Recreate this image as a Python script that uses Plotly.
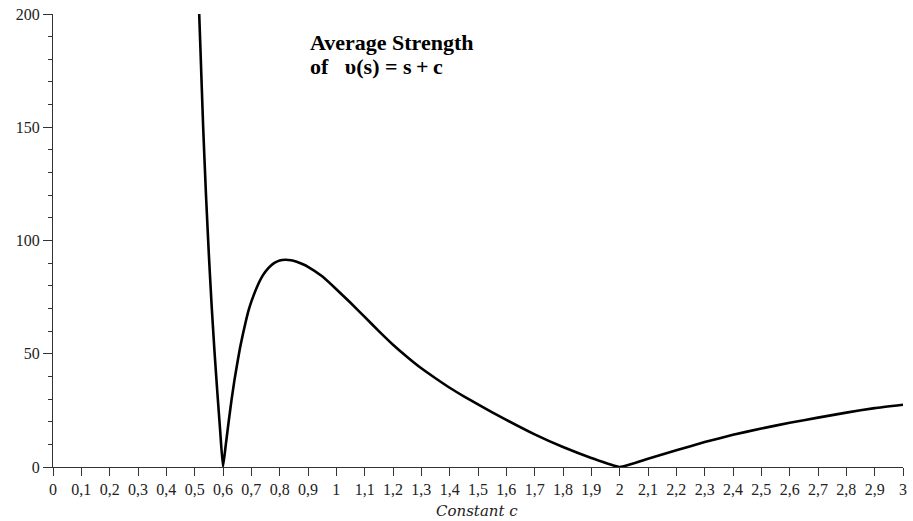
import plotly.graph_objects as go

# Data
c_values = [0.516, 0.52, 0.53, 0.54, 0.55, 0.56, 0.57, 0.58, 0.59, 0.6,
            0.61, 0.62, 0.63, 0.64, 0.65, 0.66, 0.67, 0.68, 0.69, 0.70,
            0.72, 0.74, 0.76, 0.78, 0.80, 0.82, 0.84, 0.86, 0.88, 0.90,
            0.95, 1.0, 1.05, 1.1, 1.15, 1.2, 1.25, 1.3, 1.35, 1.4,
            1.45, 1.5, 1.6, 1.7, 1.8, 1.9, 2.0, 2.1, 2.2, 2.3,
            2.4, 2.5, 2.6, 2.7, 2.8, 2.9, 3.0]
strength = [200, 186, 150, 120, 94, 71, 51, 33, 16, 0,
            10, 20, 29.5, 38, 45.5, 52.5, 58.5, 64, 69, 73,
            79.5, 84.5, 87.8, 90, 91.2, 91.5, 91.3, 90.6, 89.6, 88.4,
            84.2, 78.5, 72.5, 66.3, 60, 54, 48.6, 43.6, 39.2, 35,
            31.2, 27.6, 20.8, 14.4, 8.8, 4, 0, 3.6, 7.4, 11,
            14.2, 17, 19.5, 21.8, 24, 26, 27.5]

x_tick_vals = [0, 0.1, 0.2, 0.3, 0.4, 0.5, 0.6, 0.7, 0.8, 0.9, 1.0,
               1.1, 1.2, 1.3, 1.4, 1.5, 1.6, 1.7, 1.8, 1.9, 2.0,
               2.1, 2.2, 2.3, 2.4, 2.5, 2.6, 2.7, 2.8, 2.9, 3.0]
x_tick_labels = ["0", "0,1", "0,2", "0,3", "0,4", "0,5", "0,6", "0,7", "0,8", "0,9", "1",
                 "1,1", "1,2", "1,3", "1,4", "1,5", "1,6", "1,7", "1,8", "1,9", "2",
                 "2,1", "2,2", "2,3", "2,4", "2,5", "2,6", "2,7", "2,8", "2,9", "3"]
y_tick_vals = [0, 50, 100, 150, 200]
y_tick_labels = ["0", "50", "100", "150", "200"]

serif = "Liberation Serif, Times New Roman, serif"
NB = "\u00a0"

fig = go.Figure()
fig.add_trace(go.Scatter(
    x=c_values, y=strength, mode="lines",
    line=dict(color="black", width=2.6, shape="spline", smoothing=0.4),
    showlegend=False, hoverinfo="skip", cliponaxis=True,
))

fig.update_layout(
    width=913, height=521,
    margin=dict(l=53, r=6, t=12, b=54),
    paper_bgcolor="white", plot_bgcolor="white",
    font=dict(family=serif, size=16, color="#222"),
    xaxis=dict(
        range=[0, 3], tickvals=x_tick_vals, ticktext=x_tick_labels,
        showgrid=False, zeroline=False, showline=True, linecolor="#333", linewidth=1,
        ticks="outside", ticklen=8, tickcolor="#333", tickwidth=1,
        tickfont=dict(family=serif, size=16, color="#222"),
    ),
    yaxis=dict(
        range=[0, 200], tickvals=y_tick_vals, ticktext=y_tick_labels,
        showgrid=False, zeroline=False, showline=True, linecolor="#333", linewidth=1,
        ticks="outside", ticklen=9, tickcolor="#333", tickwidth=1,
        tickfont=dict(family=serif, size=16, color="#222"),
        minor=dict(dtick=10, ticks="outside", ticklen=4, tickcolor="#333", showgrid=False),
    ),
    annotations=[
        dict(text="Constant c", xref="paper", yref="paper", x=0.499, y=-0.097,
             xanchor="center", yanchor="middle", showarrow=False,
             font=dict(family="DejaVu Serif", size=15, color="#222", style="italic")),
        dict(text="<b>Average Strength</b>", xref="x", yref="y", x=0.899, y=187.2,
             xanchor="left", yanchor="middle", showarrow=False,
             font=dict(family=serif, size=22, color="black")),
        dict(text="<b>of" + NB * 3 + "υ(s)" + NB + "=" + NB + "s\u2009+\u2009c</b>",
             xref="x", yref="y", x=0.899, y=177.0,
             xanchor="left", yanchor="middle", showarrow=False,
             font=dict(family=serif, size=22, color="black")),
    ],
)

fig.write_html("out.html")
